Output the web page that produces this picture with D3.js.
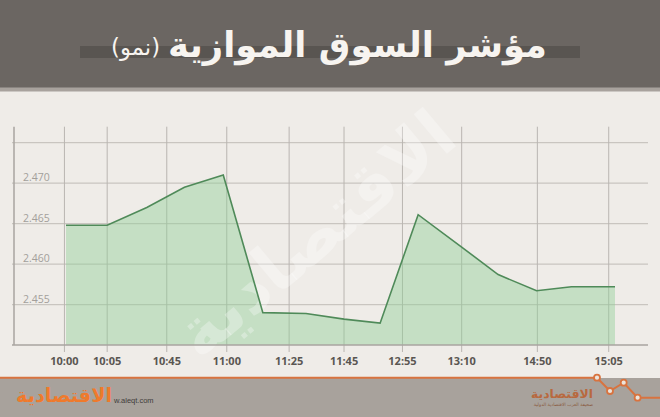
<!DOCTYPE html>
<html><head><meta charset="utf-8">
<script src="https://cdn.jsdelivr.net/npm/d3@7"></script>
<style>html,body{margin:0;padding:0;background:#efece8;overflow:hidden}</style>
</head><body><svg id="c" width="660" height="417"></svg>
<script>
// ---- data ----
const titleMain = "مؤشر السوق الموازية";
const titleSub = "(نمو)";
const slots = [0, 1.05, 2.06, 3.02, 4.01, 5.02, 6.12, 7.09, 8.01, 8.98, 10.09, 11.02, 12.0, 12.89, 14];
const values = [2.4648, 2.4648, 2.4670, 2.4695, 2.4710, 2.4540, 2.4539, 2.4532, 2.4527, 2.4661, 2.4621, 2.4587, 2.4567, 2.4572, 2.4572];
const tickLabels = ["10:00","10:05","10:45","11:00","11:25","11:45","12:55","13:10","14:50","15:05"];
const tickSlots = [-0.04, 1.05, 2.57, 4.10, 5.69, 7.09, 8.58, 10.09, 12.02, 13.84];
const yTickValues = [2.455, 2.460, 2.465, 2.470];
const yGridValues = [2.455, 2.460, 2.465, 2.470, 2.475];
const logoText = "الاقتصادية";
const siteText = "w.aleqt.com";
const logoSub = "صحيفة العرب الاقتصادية الدولية";

// ---- layout ----
const svg = d3.select("#c");
const W = 660, H = 417;
const x = d3.scaleLinear().domain([0, 14]).range([66, 615]);
const y = d3.scaleLinear().domain([2.450, 2.475]).range([345, 142.7]);
const plotL = 14, plotR = 648, plotTop = 126.7, plotBot = 345;

svg.append("rect").attr("width", W).attr("height", H).attr("fill", "#efece8");

// header
svg.append("rect").attr("x",0).attr("y",0).attr("width",W).attr("height",88).attr("fill","#6b6662");
svg.append("rect").attr("x",0).attr("y",87.5).attr("width",W).attr("height",4).attr("fill","#a8a29d");
svg.append("rect").attr("x",80).attr("y",46).attr("width",500).attr("height",12).attr("fill","#595551");

const tMain = svg.append("text").attr("x",547).attr("y",57)
  .attr("text-anchor","end").attr("font-family","DejaVu Sans").attr("font-weight","bold")
  .attr("font-size",30).attr("fill","#f7f4f0").text(titleMain);
let len = tMain.node().getComputedTextLength();
tMain.attr("font-size", 30 * 379 / len);
const tSub = svg.append("text").attr("x",160).attr("y",55)
  .attr("text-anchor","end").attr("font-family","DejaVu Sans")
  .attr("font-size",20).attr("fill","#f7f4f0").text(titleSub);
len = tSub.node().getComputedTextLength();
tSub.attr("font-size", 20 * 49 / len);

// grid
svg.append("g").selectAll("line").data(yGridValues).join("line")
  .attr("x1", 12).attr("x2", plotR).attr("y1", d => y(d)).attr("y2", d => y(d))
  .attr("stroke", "#c9c5c0").attr("stroke-width", 1.2);
svg.append("g").selectAll("line").data(tickSlots).join("line")
  .attr("x1", d => x(d)).attr("x2", d => x(d)).attr("y1", plotTop).attr("y2", 352)
  .attr("stroke", "#b9b5b1").attr("stroke-width", 1);

// area
const pts = slots.map((s, i) => ({s, v: values[i]}));
svg.append("path").datum(pts)
  .attr("d", d3.area().x(d => x(d.s)).y0(y(2.450)).y1(d => y(d.v)))
  .attr("fill", "#8fcf96").attr("fill-opacity", 0.44);

// watermark
svg.append("text").attr("transform","translate(330,252) rotate(-40)")
  .attr("text-anchor","middle").attr("font-family","DejaVu Sans").attr("font-weight","bold")
  .attr("font-size",68).attr("fill","#ffffff").attr("fill-opacity",0.3).text(logoText);

// line
svg.append("path").datum(pts)
  .attr("d", d3.line().x(d => x(d.s)).y(d => y(d.v)))
  .attr("fill", "none").attr("stroke", "#4f8a59").attr("stroke-width", 1.6);

// axes
svg.append("line").attr("x1",plotL).attr("x2",plotL).attr("y1",plotTop).attr("y2",plotBot)
  .attr("stroke","#a9a5a1").attr("stroke-width",1.5);
svg.append("line").attr("x1",12).attr("x2",plotR).attr("y1",plotBot).attr("y2",plotBot)
  .attr("stroke","#a9a5a1").attr("stroke-width",1.5);

// y labels
svg.append("g").selectAll("text").data(yTickValues).join("text")
  .attr("x", 23).attr("y", d => y(d) - 2)
  .attr("font-family","Open Sans").attr("font-size",10.5).attr("fill","#a39f9b")
  .text(d => d3.format(".3f")(d));

// x labels
svg.append("g").selectAll("text").data(tickLabels).join("text")
  .attr("x", (d,i) => x(tickSlots[i])).attr("y", 364.5)
  .attr("text-anchor","middle").attr("font-family","Open Sans").attr("font-weight","bold")
  .attr("font-size",11).attr("fill","#5a5652").text(d => d);

// footer
svg.append("rect").attr("x",0).attr("y",378).attr("width",W).attr("height",H-378).attr("fill","#a8a29c");
const zig = [[0,377.7],[597,377.7],[610,391],[623.7,382.7],[637.6,397.7],[660,397.7]];
svg.append("path").attr("d", d3.line()(zig)).attr("fill","none").attr("stroke","#d8733f").attr("stroke-width",2);
svg.append("g").selectAll("circle").data(zig.slice(1,5)).join("circle")
  .attr("cx", d => d[0]).attr("cy", d => d[1]).attr("r", 3)
  .attr("fill","#ece4dc").attr("stroke","#d8733f").attr("stroke-width",1.8);

const lg = svg.append("text").attr("x",112).attr("y",402)
  .attr("text-anchor","end").attr("font-family","DejaVu Sans").attr("font-weight","bold")
  .attr("font-size",20).attr("fill","#ef7a2c").text(logoText);
len = lg.node().getComputedTextLength();
lg.attr("font-size", 20 * 96 / len);
svg.append("text").attr("x",114).attr("y",403).attr("font-family","Liberation Sans")
  .attr("font-size",7.5).attr("fill","#3f3c3a").text(siteText);

const rl = svg.append("text").attr("x",593).attr("y",398)
  .attr("text-anchor","end").attr("font-family","DejaVu Sans").attr("font-weight","bold")
  .attr("font-size",14).attr("fill","#b8693f").text(logoText);
len = rl.node().getComputedTextLength();
rl.attr("font-size", 14 * 62 / len);
svg.append("text").attr("x",593).attr("y",406).attr("text-anchor","end")
  .attr("font-family","DejaVu Sans").attr("font-size",4.5).attr("fill","#8a5a40").text(logoSub);
</script>
</body></html>
